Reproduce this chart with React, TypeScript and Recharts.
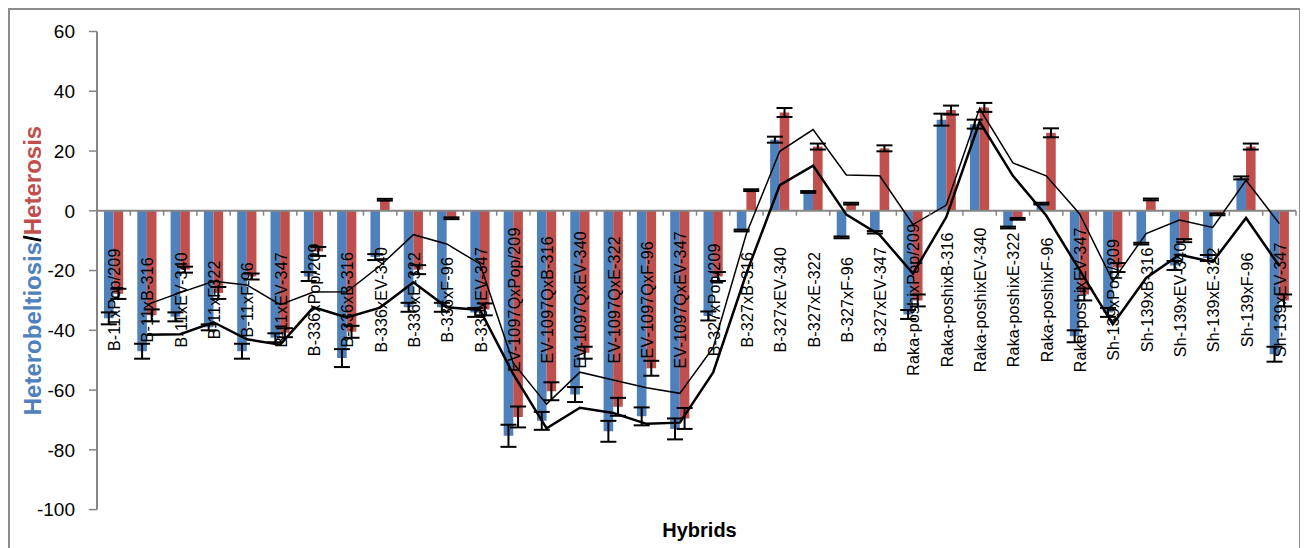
import React from "react";
import {
  ComposedChart,
  Bar,
  Line,
  XAxis,
  YAxis,
  ErrorBar,
  ReferenceLine,
} from "recharts";

const categories = [
  "B-11xPop/209", "B-11xB-316", "B-11xEV-340", "B-11xF322", "B-11xF-96", "B-11xEV-347",
  "B-336xPop/209", "B-336xB-316", "B-336xEV-340", "B-336xE-322", "B-336xF-96", "B-336xEV-347",
  "EV-1097QxPop/209", "EV-1097QxB-316", "EV-1097QxEV-340", "EV-1097QxE-322", "EV-1097QxF-96", "EV-1097QxEV-347",
  "B-327xPop/209", "B-327xB-316", "B-327xEV-340", "B-327xE-322", "B-327xF-96", "B-327xEV-347",
  "Raka-poshixPop/209", "Raka-poshixB-316", "Raka-poshixEV-340", "Raka-poshixE-322", "Raka-poshixF-96", "Raka-poshixEV-347",
  "Sh-139xPop/209", "Sh-139xB-316", "Sh-139xEV-340", "Sh-139xE-322", "Sh-139xF-96", "Sh-139xEV-347",
];

// blue bars
const heterobeltiosis = [
  -36, -47, -35.5, -39, -47, -42.5,
  -22, -49.3, -15.5, -32.3, -32.3, -34,
  -75.3, -70.3, -61.5, -73.8, -68.8, -73,
  -35.2, -6.6, 23.8, 6.3, -8.9, -7.2,
  -34.7, 30.5, 29, -5.6, 2.4, -42,
  -34, -11, -18.3, -15.8, 11, -48,
];
const heterobeltiosisErr = [
  2, 2.5, 1.5, 1, 2.5, 1.5,
  1.5, 3, 1, 1.5, 1.5, 1.5,
  3.7, 3, 2.5, 3.5, 3, 3.5,
  1.5, 0.3, 1, 0.3, 0.3, 0.4,
  1.5, 2, 1.5, 0.3, 0.3, 2,
  1.5, 0.3, 1.5, 1, 0.5, 2.5,
];

// red bars
const heterosis = [
  -27.8, -35, -19.7, -27.5, -22, -40.8,
  -13.6, -40.5, 3.7, -19.7, -2.5, -33,
  -69, -60.4, -47.5, -65.6, -52.7, -69.5,
  -22, 6.9, 32.9, 21.5, 2.4, 20.9,
  -30, 33.7, 34.6, -2.7, 26.1, -28,
  -19, 3.8, -10, -1.2, 21.5, -30,
];
const heterosisErr = [
  1.7, 2, 1, 2, 1, 1.5,
  1.5, 2, 0.3, 1.5, 0.3, 2,
  3.5, 3, 2, 3, 2.5, 3.5,
  1.5, 0.3, 1.5, 1, 0.3, 1,
  2, 1.5, 1.5, 0.3, 1.5, 2,
  1.5, 0.3, 0.5, 0.3, 1, 2,
];

// trend lines (2 period moving average as drawn in the picture)
const heterobeltiosisTrend = [
  null, -41.5, -41.3, -37.3, -43, -44.8,
  -32.3, -35.7, -32.4, -23.9, -32.3, -33.2,
  -54.7, -72.8, -65.9, -67.7, -71.3, -70.9,
  -54.1, -20.9, 8.6, 15.1, -1.3, -8.1,
  -21, -2.1, 29.8, 11.7, -1.6, -19.8,
  -38, -22.5, -14.7, -17.1, -2.4, -18.5,
];
const heterosisTrend = [
  null, -31.4, -27.4, -23.6, -24.8, -31.4,
  -27.2, -27.1, -18.4, -8, -11.1, -17.8,
  -51, -64.7, -54, -56.6, -59.2, -61.1,
  -45.8, -7.6, 19.9, 27.2, 12, 11.7,
  -4.6, 1.9, 34.2, 16, 11.7, -1,
  -23.5, -7.6, -3.1, -5.6, 10.2, -4.3,
];

const yTicks = [-100, -80, -60, -40, -20, 0, 20, 40, 60];

const data = categories.map((name, i) => ({
  name,
  hb: heterobeltiosis[i],
  hbErr: heterobeltiosisErr[i],
  ht: heterosis[i],
  htErr: heterosisErr[i],
  hbTrend: heterobeltiosisTrend[i],
  htTrend: heterosisTrend[i],
}));

const BLUE = "#4F81BD";
const RED = "#C0504D";
const AXIS = "#868686";
const FONT = "'Liberation Sans', Arial, sans-serif";

const W = 1292;
const H = 540;
const margin = { top: 23.5, right: 4, bottom: 8.4, left: 0 };
const Y_AXIS_W = 89;
const X_AXIS_H = 30;
const plotLeft = margin.left + Y_AXIS_W;
const plotRight = W - margin.right;
const plotTop = margin.top;
const plotBottom = H - margin.bottom - X_AXIS_H;
const yMax = 60;
const yMin = -100;
const zeroY = plotTop + ((plotBottom - plotTop) * yMax) / (yMax - yMin);
const band = (plotRight - plotLeft) / categories.length;

function CategoryTick(props: any) {
  const { x, payload } = props;
  const ly = zeroY + 89;
  const tx = x + 1;
  return (
    <g>
      <line x1={x + band / 2} x2={x + band / 2} y1={zeroY} y2={zeroY + 5} stroke={AXIS} strokeWidth={1.5} />
      <text
        x={tx}
        y={ly}
        transform={`rotate(-90 ${tx} ${ly})`}
        textAnchor="middle"
        dominantBaseline="central"
        fontSize={16}
        fontFamily={FONT}
        fill="#000"
        letterSpacing={0.2}
      >
        {payload.value}
      </text>
    </g>
  );
}

function YLabel() {
  const cx = 24;
  const cy = (plotTop + plotBottom) / 2;
  return (
    <text
      x={cx}
      y={cy}
      transform={`rotate(-90 ${cx} ${cy})`}
      textAnchor="middle"
      dominantBaseline="central"
      fontSize={24}
      fontWeight="bold"
      fontFamily={FONT}
    >
      <tspan fill={BLUE}>Heterobeltiosis</tspan>
      <tspan fill="#000">/</tspan>
      <tspan fill={RED}>Heterosis</tspan>
    </text>
  );
}

function XLabel() {
  return (
    <text
      x={(plotLeft + plotRight) / 2 + 3}
      y={528.5}
      textAnchor="middle"
      fontSize={20}
      fontWeight="bold"
      fontFamily={FONT}
      fill="#000"
    >
      Hybrids
    </text>
  );
}

export default function App() {
  return (
    <div style={{ position: "relative", width: W, height: H }}>
      <ComposedChart width={W} height={H} data={data} margin={margin} barGap={0}>
        <XAxis
          dataKey="name"
          height={X_AXIS_H}
          axisLine={false}
          tickLine={false}
          interval={0}
          tick={<CategoryTick />}
          label={<XLabel />}
        />
        <YAxis
          width={Y_AXIS_W}
          domain={[yMin, yMax]}
          ticks={yTicks}
          interval={0}
          axisLine={{ stroke: AXIS, strokeWidth: 2 }}
          tickLine={{ stroke: AXIS, strokeWidth: 1.5 }}
          tickSize={8}
          tickMargin={14}
          tick={{ fontSize: 19, fill: "#000", fontFamily: FONT }}
          label={<YLabel />}
        />
        <Bar dataKey="hb" fill={BLUE} barSize={9.6} isAnimationActive={false}>
          <ErrorBar dataKey="hbErr" direction="y" width={8} stroke="#000" strokeWidth={2} />
        </Bar>
        <Bar dataKey="ht" fill={RED} barSize={9.6} isAnimationActive={false}>
          <ErrorBar dataKey="htErr" direction="y" width={8} stroke="#000" strokeWidth={2} />
        </Bar>
        <ReferenceLine y={0} stroke={AXIS} strokeWidth={2} />
        <Line
          type="linear"
          dataKey="hbTrend"
          stroke="#000"
          strokeWidth={2.5}
          dot={false}
          isAnimationActive={false}
        />
        <Line
          type="linear"
          dataKey="htTrend"
          stroke="#000"
          strokeWidth={1.5}
          dot={false}
          isAnimationActive={false}
        />
      </ComposedChart>
      <div
        style={{
          position: "absolute",
          left: 0,
          top: 0,
          width: W + 1,
          height: H,
          boxSizing: "border-box",
          borderTop: "2px solid #8c8c8c",
          borderLeft: "2px solid #8c8c8c",
          borderRight: "2px solid #8c8c8c",
          pointerEvents: "none",
        }}
      />
    </div>
  );
}
